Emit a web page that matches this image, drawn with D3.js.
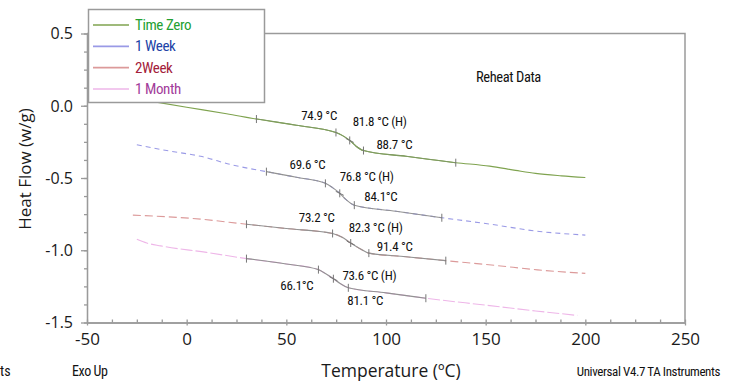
<!DOCTYPE html>
<html><head><meta charset="utf-8">
<script src="https://cdn.jsdelivr.net/npm/d3@7"></script>
<style>
html,body{margin:0;padding:0;background:#fff;}
svg{display:block;}
.narrow{font-family:"Liberation Sans Narrow","Roboto Condensed","DejaVu Sans Condensed",sans-serif;}
.wide{font-family:"Open Sans","Noto Sans",sans-serif;}
</style></head>
<body>
<svg id="chart" width="740" height="382"></svg>
<script>
// ---- data ----
const seriesNames = ["Time Zero", "1 Week", "2Week", "1 Month"];
const xTicks = [-50, 0, 50, 100, 150, 200, 250];
const yTicks = [-1.5, -1.0, -0.5, 0.0, 0.5];

const tempsTimeZero  = [-30, -13, 0, 20, 35, 55, 74.9, 78, 81.8, 85, 88.7, 110, 135, 152, 165, 175, 188, 200];
const valuesTimeZero = [0.06, 0.02, -0.01, -0.055, -0.092, -0.135, -0.185, -0.205, -0.24, -0.28, -0.31, -0.35, -0.394, -0.418, -0.447, -0.468, -0.485, -0.497];

const temps1Week  = [-25, -10, 7, 23, 40, 55, 69.6, 73, 76.8, 80, 84.1, 105, 128, 150, 177, 200];
const values1Week = [-0.27, -0.31, -0.35, -0.41, -0.456, -0.495, -0.537, -0.565, -0.606, -0.65, -0.688, -0.73, -0.775, -0.815, -0.87, -0.895];

const temps2Week  = [-27, -10, 3, 30, 50, 73.2, 78, 82.3, 87, 91.4, 110, 130, 155, 176, 200];
const values2Week = [-0.757, -0.768, -0.78, -0.82, -0.85, -0.884, -0.91, -0.95, -0.99, -1.02, -1.045, -1.072, -1.105, -1.136, -1.16];

const temps1Month  = [-25, -20, -13, 10, 30, 50, 66.1, 70, 73.6, 77, 81.1, 100, 120, 150, 175, 196];
const values1Month = [-0.924, -0.95, -0.97, -1.015, -1.058, -1.095, -1.134, -1.165, -1.197, -1.23, -1.26, -1.295, -1.332, -1.38, -1.42, -1.451];

// analysis markers: [start limit, onset, midpoint, end, end limit]
const marksTimeZero = [35, 74.9, 81.8, 88.7, 135];
const marks1Week    = [40, 69.6, 76.8, 84.1, 128];
const marks2Week    = [30, 73.2, 82.3, 91.4, 130];
const marks1Month   = [30, 66.1, 73.6, 81.1, 120];

const labelsTimeZero = ["74.9 °C", "81.8 °C (H)", "88.7 °C"];
const labels1Week    = ["69.6 °C", "76.8 °C (H)", "84.1°C"];
const labels2Week    = ["73.2 °C", "82.3 °C (H)", "91.4 °C"];
const labels1Month   = ["66.1°C", "73.6 °C (H)", "81.1 °C"];

// ---- styles ----
const lineColors = ["#7fa34f", "#9a9ae6", "#dc9a9a", "#eeb6e8"];
const textColors = ["#23a032", "#2142a6", "#a3203a", "#a23c9a"];
const dashes = [null, "5,4", "8,4", "12,3"];
// label placement relative to marker point: [dx, dy, anchor]
const labelPlace = [
  [[1,-12,"end"],[3,-14,"start"],[13,-2,"start"]],
  [[0,-14,"end"],[0,-12,"start"],[10,-4,"start"]],
  [[2,-11,"end"],[-2,-11,"start"],[8,-2,"start"]],
  [[-5,20,"end"],[9,1,"start"],[-1,17,"start"]]
];

const series = [
  {name: seriesNames[0], t: tempsTimeZero, v: valuesTimeZero, m: marksTimeZero, l: labelsTimeZero},
  {name: seriesNames[1], t: temps1Week, v: values1Week, m: marks1Week, l: labels1Week},
  {name: seriesNames[2], t: temps2Week, v: values2Week, m: marks2Week, l: labels2Week},
  {name: seriesNames[3], t: temps1Month, v: values1Month, m: marks1Month, l: labels1Month}
];

const svg = d3.select("#chart");
const x = d3.scaleLinear().domain([-50, 250]).range([87, 685]);
const y = d3.scaleLinear().domain([-1.5, 0.5]).range([322.5, 33.5]);
const frameColor = "#9a9a9a";

// frame (top + right)
svg.append("path")
  .attr("d", `M${x(-50)},${y(0.5)}H${x(250)}V${y(-1.5)}`)
  .attr("fill","none").attr("stroke",frameColor).attr("stroke-width",1.5);

// y axis
const yMinor = d3.axisLeft(y).tickValues(d3.range(-1.5, 0.5001, 0.125)).tickSize(3).tickSizeOuter(0).tickFormat("");
const yAx = svg.append("g").attr("transform",`translate(${x(-50)},0)`).call(yMinor);
const yMajor = d3.axisLeft(y).tickValues(yTicks).tickSize(6).tickSizeOuter(0).tickPadding(8).tickFormat(d => d.toFixed(1));
const yAx2 = svg.append("g").attr("transform",`translate(${x(-50)},0)`).call(yMajor);
[yAx, yAx2].forEach(g => {
  g.selectAll("path,line").attr("stroke", frameColor).attr("stroke-width",1.3);
});
yAx2.selectAll("text").attr("class","wide").attr("font-size",16).attr("fill","#1a1a1a").attr("dy","0.34em");

// x axis
const xMinor = d3.axisTop(x).tickValues(d3.range(-50, 250.001, 12.5)).tickSize(3).tickSizeOuter(0).tickFormat("");
const xAx = svg.append("g").attr("transform",`translate(0,${y(-1.5)})`).call(xMinor);
const xMajor = d3.axisBottom(x).tickValues(xTicks).tickSize(3).tickSizeOuter(0).tickPadding(4).tickFormat(d => String(d));
const xAx2 = svg.append("g").attr("transform",`translate(0,${y(-1.5)})`).call(xMajor);
[xAx, xAx2].forEach(g => {
  g.selectAll("path,line").attr("stroke", frameColor).attr("stroke-width",1.3);
});
xAx2.selectAll("text").attr("class","wide").attr("font-size",17).attr("fill","#1a1a1a").attr("dy","0.9em");

// curves
const line = d3.line().x(d => x(d[0])).y(d => y(d[1])).curve(d3.curveMonotoneX);
series.forEach((s, i) => {
  const pts = s.t.map((t, k) => [t, s.v[k]]);
  const valAt = t => pts.find(p => p[0] === t)[1];
  const g = svg.append("g");
  g.append("path").attr("d", line(pts)).attr("fill","none")
    .attr("stroke", lineColors[i]).attr("stroke-width",1.1)
    .attr("stroke-dasharray", dashes[i]);
  const inner = pts.filter(p => p[0] >= s.m[0] && p[0] <= s.m[4]);
  g.append("path").attr("d", line(inner)).attr("fill","none")
    .attr("stroke", i === 0 ? "#7f9a62" : "#929292").attr("stroke-width",1.1);
  s.m.forEach((t, k) => {
    const px = x(t), py = y(valAt(t));
    g.append("line").attr("x1",px).attr("x2",px).attr("y1",py-4).attr("y2",py+4)
      .attr("stroke","#777").attr("stroke-width",1);
    if (k === 2) {
      g.append("line").attr("x1",px-4).attr("x2",px+4).attr("y1",py-2).attr("y2",py+2)
        .attr("stroke","#777").attr("stroke-width",1);
    }
  });
  s.l.forEach((txt, k) => {
    const t = s.m[k+1];
    const pl = labelPlace[i][k];
    g.append("text").attr("class","narrow")
      .attr("x", x(t) + pl[0]).attr("y", y(valAt(t)) + pl[1])
      .attr("text-anchor", pl[2]).attr("font-size",13).attr("letter-spacing",-0.3).attr("fill","#111")
      .text(txt);
  });
});

// legend
const lg = svg.append("g");
lg.append("rect").attr("x",88.5).attr("y",9.5).attr("width",176).attr("height",93)
  .attr("fill","#fff").attr("stroke",frameColor).attr("stroke-width",1.5);
const legY = d3.scalePoint().domain(seriesNames).range([25, 89]);
seriesNames.forEach((n, i) => {
  lg.append("line").attr("x1",93).attr("x2",129).attr("y1",legY(n)).attr("y2",legY(n))
    .attr("stroke", lineColors[i]).attr("stroke-width",1.6);
  lg.append("text").attr("class","narrow").attr("x",135).attr("y",legY(n)+5)
    .attr("font-size",15).attr("letter-spacing",-0.4).attr("fill",textColors[i]).text(n);
});

// annotations
svg.append("text").attr("class","narrow").attr("x",476).attr("y",82)
  .attr("font-size",14.5).attr("letter-spacing",-0.4).attr("fill","#111").text("Reheat Data");

// axis titles
svg.append("text").attr("class","wide")
  .attr("transform","translate(31,169) rotate(-90)")
  .attr("text-anchor","middle").attr("font-size",17).attr("fill","#1a1a1a").text("Heat Flow (w/g)");
svg.append("text").attr("class","wide").attr("x",391).attr("y",377)
  .attr("text-anchor","middle").attr("font-size",17.5).attr("fill","#1a1a1a").text("Temperature (ºC)");
svg.append("text").attr("class","narrow").attr("x",72).attr("y",376)
  .attr("font-size",14).attr("letter-spacing",-0.4).attr("fill","#111").text("Exo Up");
svg.append("text").attr("class","narrow").attr("x",720).attr("y",376)
  .attr("text-anchor","end").attr("font-size",13).attr("letter-spacing",-0.4).attr("fill","#111").text("Universal V4.7 TA Instruments");
svg.append("text").attr("class","narrow").attr("x",0).attr("y",376)
  .attr("font-size",14).attr("fill","#111").text("ts");
</script>
</body></html>
